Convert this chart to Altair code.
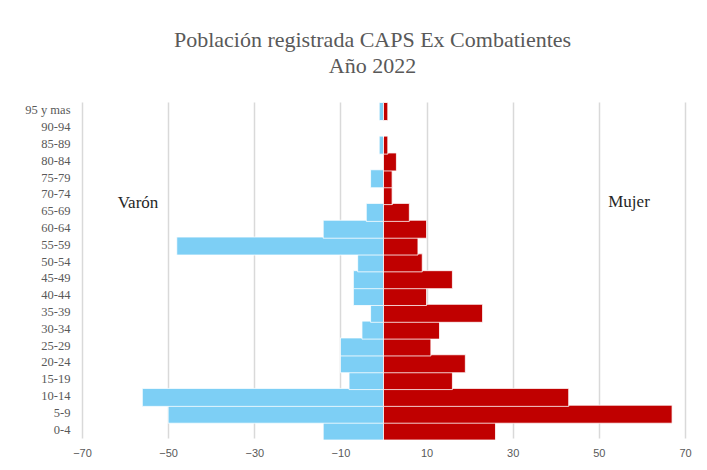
import altair as alt
import pandas as pd

ages = ["0-4", "5-9", "10-14", "15-19", "20-24", "25-29", "30-34", "35-39",
        "40-44", "45-49", "50-54", "55-59", "60-64", "65-69", "70-74", "75-79",
        "80-84", "85-89", "90-94", "95 y mas"]
varon = [14, 50, 56, 8, 10, 10, 5, 3, 7, 7, 6, 48, 14, 4, 0, 3, 0, 1, 0, 1]
mujer = [26, 67, 43, 16, 19, 11, 13, 23, 10, 16, 9, 8, 10, 6, 2, 2, 3, 1, 0, 1]
ticks = [-70, -50, -30, -10, 10, 30, 50, 70]

rows = []
for a, v, m in zip(ages, varon, mujer):
    rows.append({"edad": a, "sexo": "Varón", "valor": -v})
    rows.append({"edad": a, "sexo": "Mujer", "valor": m})
df = pd.DataFrame(rows)

labels = pd.DataFrame({
    "texto": ["Varón", "Mujer"],
    "x": [-57, 57],
    "edad": ["65-69", "70-74"],
    "dy": [0, 5],
})

SERIF = "'Liberation Serif', 'DejaVu Serif', serif"

order = list(reversed(ages))
y_enc = alt.Y("edad:N", sort=order, scale=alt.Scale(domain=order, paddingInner=0.08, paddingOuter=0.03),
              axis=alt.Axis(title=None, domain=False, ticks=False, labelFont=SERIF,
                            labelFontSize=12.5, labelColor="#595959", labelPadding=12, grid=False))
x_scale = alt.Scale(domain=[-70, 70], nice=False, zero=False)

bars = alt.Chart(df).mark_bar(stroke="white", strokeWidth=0.8).encode(
    x=alt.X("valor:Q", scale=x_scale,
            axis=alt.Axis(values=ticks, title=None, domain=False, ticks=False, grid=True,
                          gridColor="#d9d9d9", gridWidth=1.5, labelFont="Liberation Sans",
                          labelFontSize=11, labelColor="#595959", labelPadding=9,
                          labelFlush=False, labelBound=False)),
    y=y_enc,
    color=alt.Color("sexo:N", scale=alt.Scale(domain=["Varón", "Mujer"], range=["#7dcff5", "#c00000"]),
                    legend=None),
)

text = alt.Chart(labels).mark_text(font=SERIF, fontSize=17, color="#262626").encode(
    x=alt.X("x:Q", scale=x_scale),
    y=alt.Y("edad:N", sort=order, scale=alt.Scale(domain=order)),
    text="texto:N",
    yOffset="dy:Q",
)

chart = alt.layer(bars, text).properties(
    width=603,
    height=336,
    background="white",
    title=alt.TitleParams(
        text=["Población registrada CAPS Ex Combatientes", "Año 2022"],
        font=SERIF, fontSize=22, fontWeight="normal", color="#595959",
        lineHeight=26, offset=24, anchor="middle", dx=-11,
    ),
    padding={"left": 74, "top": 94, "right": 14, "bottom": 20},
    autosize=alt.AutoSizeParams(type="none"),
).configure_view(stroke=None)

chart.save("out.html", embed_options={"renderer": "svg", "actions": False})
